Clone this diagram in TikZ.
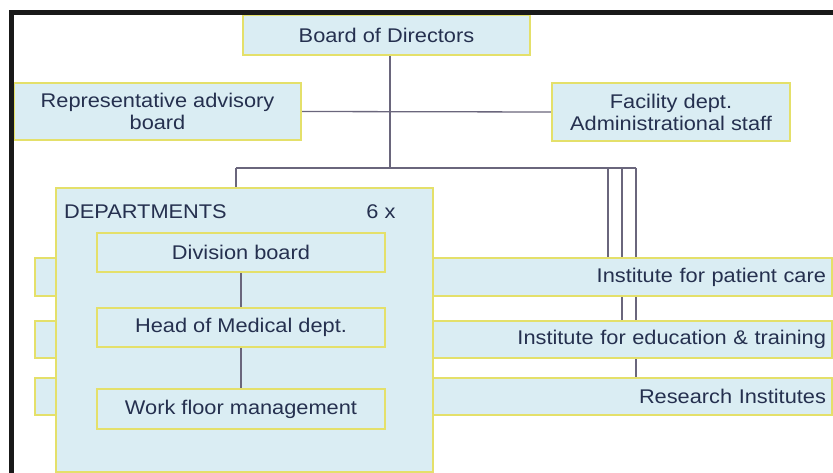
\documentclass[tikz,border=0pt]{standalone}
\usepackage{fontspec}
\setmainfont{Liberation Sans}[FakeStretch=1.1]
\usetikzlibrary{backgrounds}
\definecolor{boxfill}{HTML}{DAEDF3}
\definecolor{boxline}{HTML}{E4E06A}
\definecolor{txt}{HTML}{25304F}
\definecolor{conn}{HTML}{6A667C}
\tikzset{
  orgbox/.style={draw=boxline, line width=1.8pt, fill=boxfill, text=txt,
    inner sep=0pt, align=center, font=\fontsize{19.8}{22}\selectfont},
  barbox/.style={orgbox, text width=785pt, inner xsep=6pt, align=right,
    minimum height=#1},
  plain/.style={text=txt, inner sep=0pt, font=\fontsize{19.8}{22}\selectfont},
  link/.style={draw=conn, line width=1.3pt}
}
\begin{document}
\begin{tikzpicture}[x=1pt,y=-1pt]
\useasboundingbox (0,0) rectangle (833,473);
% top row
\node[orgbox, minimum width=287pt, minimum height=40pt] (board) at (386.5,35) {Board of Directors};
\node[orgbox, minimum width=287pt, minimum height=57pt] (rep) at (157.5,111.5) {Representative advisory\\board};
\node[orgbox, minimum width=238pt, minimum height=58pt] (fac) at (671,112) {Facility dept.\\Administrational staff};
% institute bars
\node[barbox=38pt] (bar1) at (433.5,277) {Institute for patient care};
\node[barbox=37pt] (bar2) at (433.5,339.5) {Institute for education \& training};
\node[barbox=37pt] (bar3) at (433.5,396.5) {Research Institutes};
% departments
\node[orgbox, minimum width=377pt, minimum height=284pt] (dept) at (244.5,330) {};
\node[plain, anchor=west] (dlabel) at (64,212) {DEPARTMENTS};
\node[plain] (six) at (381,212) {6 x};
\node[orgbox, minimum width=288pt, minimum height=39pt] (div) at (241,252.5) {Division board};
\node[orgbox, minimum width=288pt, minimum height=39pt] (head) at (241,327.5) {Head of Medical dept.};
\node[orgbox, minimum width=288pt, minimum height=40pt] (work) at (241,409) {Work floor management};
\draw[link] (div.south) -- (head.north);
\draw[link] (head.south) -- (work.north);
% frame
\draw[black!90, line width=5pt] (11.5,480) -- (11.5,12.5) -- (840,12.5);
% connectors
\coordinate (j) at (390,168);
\coordinate (jl) at (236,168);
\coordinate (j1) at (608,168);
\coordinate (j2) at (622,168);
\coordinate (j3) at (636,168);
\begin{pgfonlayer}{background}
\fill[white] (0,0) rectangle (833,473);
\draw[link] (board.south -| j) -- (j);
\draw[link] (rep.east) -- (fac.west);
\draw[link] (jl) -- (j3);
\draw[link] (jl) -- (dept.north -| jl);
\draw[link] (j1) -- (bar1.north -| j1);
\draw[link] (j2) -- (bar2.north -| j2);
\draw[link] (j3) -- (bar3.north -| j3);
\end{pgfonlayer}
\end{tikzpicture}
\end{document}
